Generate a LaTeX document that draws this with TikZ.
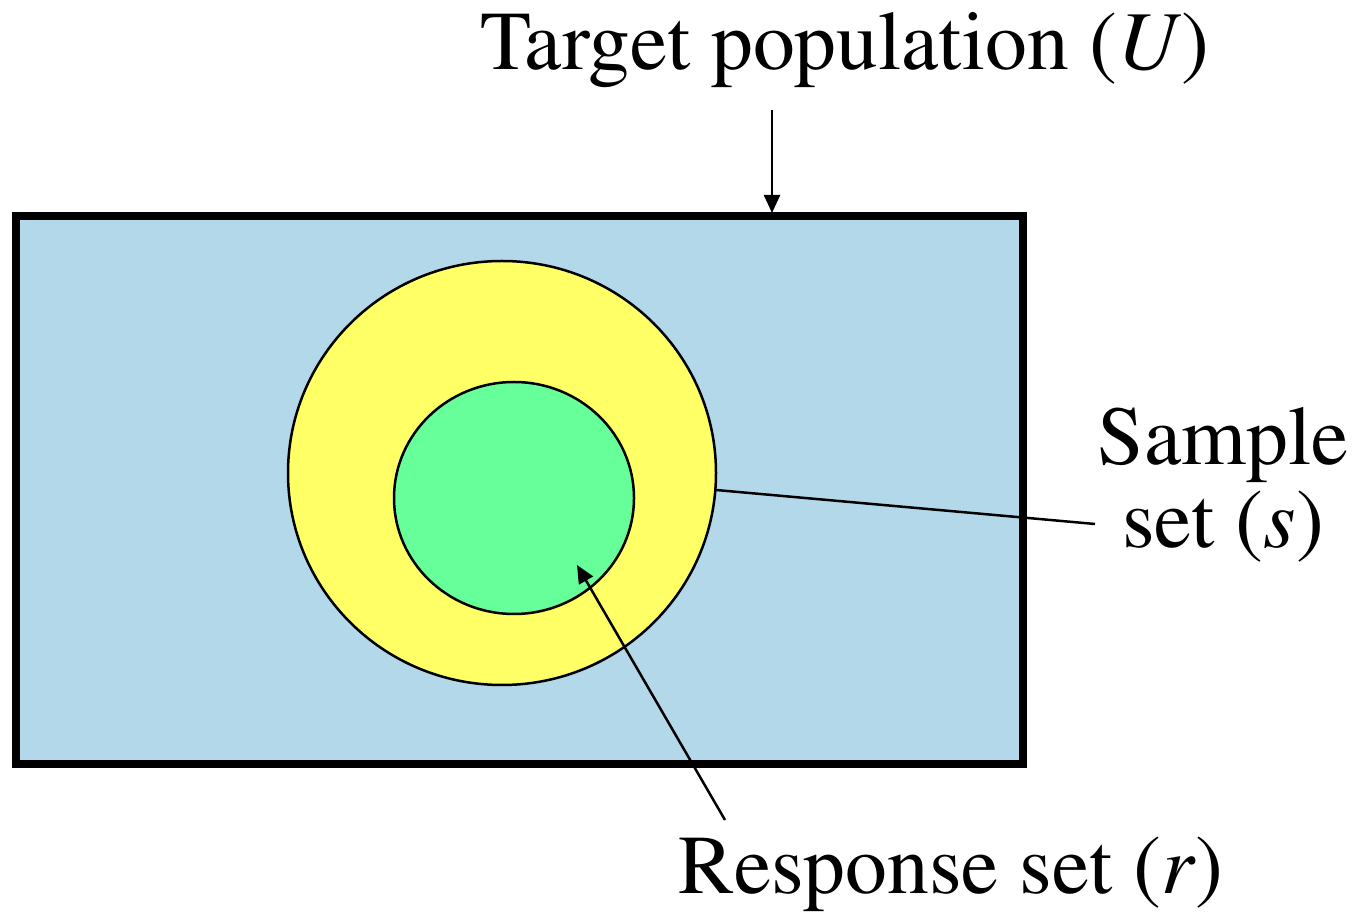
\documentclass[tikz,border=0pt]{standalone}
\usepackage[T1]{fontenc}
\usepackage{mathptmx}
\usepackage{xcolor}
\usetikzlibrary{arrows.meta}

\definecolor{popblue}{RGB}{179,216,234}
\definecolor{sampleyellow}{RGB}{255,255,102}
\definecolor{respgreen}{RGB}{102,255,153}

\begin{document}
\begin{tikzpicture}[
    x=0.5pt, y=-0.5pt,
    every node/.style={font=\fontsize{41.8}{41.5}\selectfont, inner sep=0pt},
    label/.style={anchor=base, align=center},
    setline/.style={line width=1.25pt, draw=black},
    pointer/.style={line width=1.25pt, -{Triangle[length=9pt, width=8pt]}}
]
\useasboundingbox (0,0) rectangle (1365,913);

% target population
\draw [line width=4pt, fill=popblue] (16,216) rectangle (1023,764);

% sample and response sets
\draw [setline, fill=sampleyellow] (502,473) ellipse [x radius=214, y radius=212];
\draw [setline, fill=respgreen] (514,498) ellipse [x radius=120, y radius=116];

% labels
\node (target)   [label] at (845,70)  {Target population (\textit{U})};
\node (sample)   [label] at (1223,548) {Sample\\set (\textit{s})};
\node (response) [label] at (951,893) {Response set (\textit{r})};

\coordinate (targettail) at (772,110);
\coordinate (targettip)  at (772,213);
\coordinate (sampleedge) at (716,490);
\coordinate (sampleend)  at (1095,524);
\coordinate (resptail)   at (725,820);
\coordinate (resptip)    at (577,565);

\draw [pointer] (targettail) -- (targettip);
\draw [setline] (sampleedge) -- (sampleend);
\draw [pointer] (resptail) -- (resptip);

\end{tikzpicture}
\end{document}
